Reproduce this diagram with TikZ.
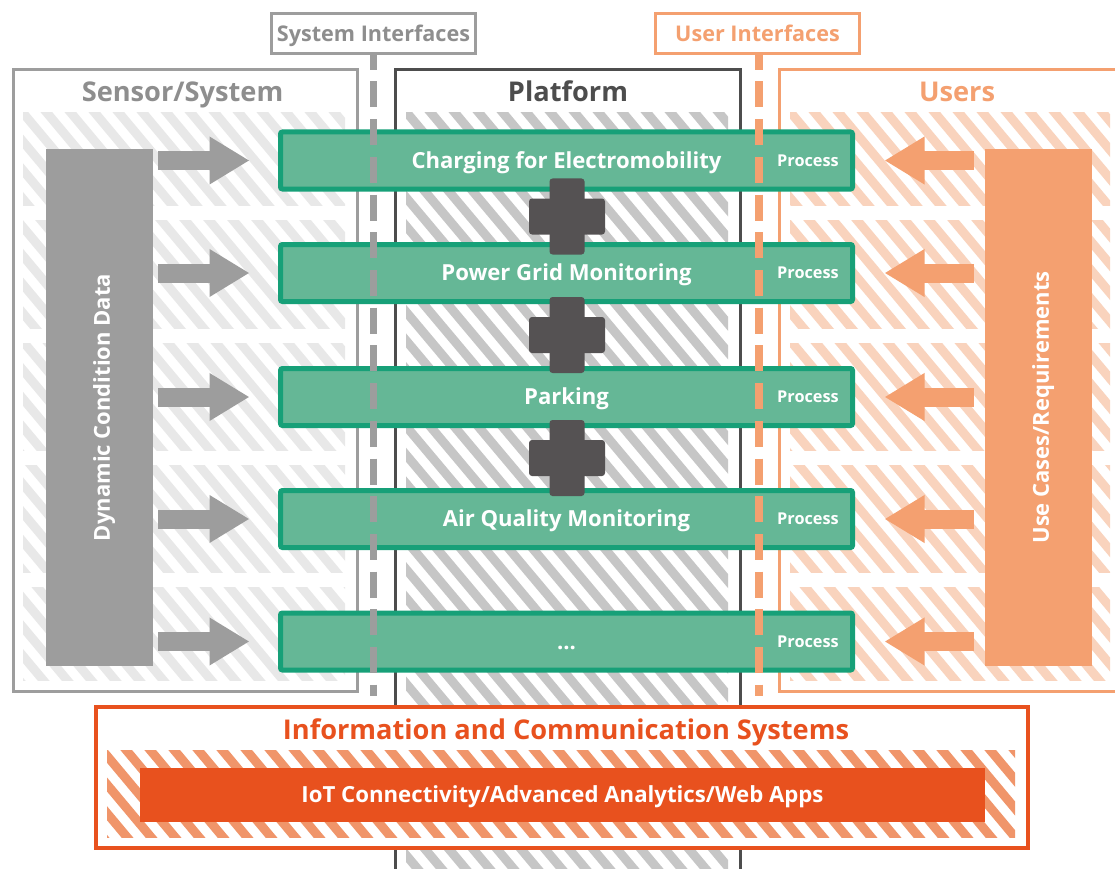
\documentclass[tikz,border=0pt]{standalone}
\usepackage{fontspec}
\setmainfont{Open Sans}
\usetikzlibrary{arrows.meta}

\definecolor{sgray}{HTML}{9D9D9D}
\definecolor{sgraytext}{HTML}{8E8E8E}
\definecolor{lighthatch}{HTML}{E8E8E8}
\definecolor{plathatch}{HTML}{C6C6C6}
\definecolor{platline}{HTML}{4D4D4D}
\definecolor{uorange}{HTML}{F4A070}
\definecolor{uhatch}{HTML}{F9D3BD}
\definecolor{gfill}{HTML}{65B796}
\definecolor{gline}{HTML}{17A078}
\definecolor{plus}{HTML}{555253}
\definecolor{ictred}{HTML}{E8511E}
\definecolor{icthatch}{HTML}{F0956A}

% diagonal hatching inside a rectangle, phase shared by all rectangles
% #1 colour, #2 x1, #3 y1, #4 x2, #5 y2
\newcommand{\hatchrect}[5]{%
  \begin{scope}
    \clip (#2,#3) rectangle (#4,#5);
    \pgfmathtruncatemacro\hkA{floor((#2-0.84*#5)/24)-1}
    \pgfmathtruncatemacro\hkB{ceil((#4-0.84*#3)/24)+1}
    \foreach \k in {\hkA,...,\hkB}
      \draw[#1, line width=9pt] (\k*24+0.84*#3-4, #3-5) -- (\k*24+0.84*#5+4, #5+5);
  \end{scope}}

% font size #1 with the node centred on the capitals
\tikzset{
  capfont/.style={font=\fontsize{#1}{#1}\selectfont\bfseries,
    text height=0.714*#1 pt, text depth=0pt},
  header/.style={capfont=27.2, inner sep=0pt},
  iflabel/.style={draw, line width=3pt, fill=white, minimum width=204pt, minimum height=40pt,
    inner sep=0pt, capfont=21.6},
  sidebar/.style={minimum width=107pt, minimum height=516pt, inner sep=0pt},
  sidetext/.style={rotate=90, text=white, capfont=22, inner sep=0pt},
  procbar/.style={draw=gline, fill=gfill, line width=5pt, rounded corners=2pt,
    minimum width=572pt, minimum height=57pt, inner sep=0pt,
    text=white, capfont=22.1},
  proctext/.style={text=white, capfont=16.3, inner sep=0pt},
  garrow/.style={sgray, line width=19pt, -{Triangle[length=40pt,width=45pt]},
    shorten <=5pt, shorten >=28.5pt},
  oarrow/.style={uorange, line width=19pt, -{Triangle[length=40pt,width=45pt]},
    shorten <=11pt, shorten >=29.5pt},
  ifline/.style={line width=7.5pt, dash pattern=on 26pt off 11.7pt, dash phase=11.2pt},
  plusfill/.style={fill=plus, rounded corners=3pt},
}

\begin{document}
\begin{tikzpicture}[x=1pt,y=-1pt]
\useasboundingbox (0,0) rectangle (1115,869);
\fill[white] (0,0) rectangle (1115,869);

% hatched bands of the three columns
\foreach \ya/\yb in {113/205,220/328,343/450,465/572,587/680}{
  \hatchrect{lighthatch}{23}{\ya}{345}{\yb}
  \hatchrect{uhatch}{790}{\ya}{1110}{\yb}
}
\hatchrect{plathatch}{406}{113}{728}{875}

% column frames
\node[draw=sgray, line width=3pt, minimum width=344pt, minimum height=622pt, inner sep=0pt]
  (sensor) at (185.5,380.5) {};
\draw[platline, line width=3pt] (395,880) -- (395,69.5) coordinate (platNW)
  -- (740.5,69.5) coordinate (platNE) -- (740.5,880);
\draw[uorange, line width=3pt] (1125,69.5) -- (779.5,69.5) -- (779.5,691.5) -- (1125,691.5);

% column headings
\node[header, text=sgraytext] (hsensor) at (182.5,92) {Sensor/System};
\node[header, text=platline] (hplat) at (568,92) {Platform};
\node[header, text=uorange] (husers) at (957,92) {Users};

% input and requirement blocks
\node[sidebar, fill=sgray] (dcd) at (99.5,407.5) {};
\node[sidetext] (dcdtext) at (102,407.5) {Dynamic Condition Data};
\node[sidebar, fill=uorange] (uc) at (1038.5,407.5) {};
\node[sidetext] (uctext) at (1041,407.5) {Use Cases/Requirements};

% process bars
\node[procbar] (b1) at (566.5,160.5) {Charging for Electromobility};
\node[procbar] (b2) at (566.5,273) {Power Grid Monitoring};
\node[procbar] (b3) at (566.5,397) {Parking};
\node[procbar] (b4) at (566.5,519) {Air Quality Monitoring};
\node[procbar] (b5) at (566.5,641.5) {...};
\foreach \b in {1,...,5}{
  \node[proctext] (p\b) at (808,0 |- b\b) {Process};
  \draw[garrow] (dcd.east |- b\b) -- (b\b.west);
  \draw[oarrow] (uc.west |- b\b) -- (b\b.east);
}

% plus signs joining the processes
\foreach \y in {216.5,335,458}{
  \fill[plusfill] (549.5,\y-38) rectangle (584.5,\y+38);
  \fill[plusfill] (529,\y-18) rectangle (605,\y+18);
}

% interface lines and their labels
\node[iflabel, draw=sgray, text=sgraytext] (sysif) at (373.5,33.5) {System Interfaces};
\node[iflabel, draw=uorange, text=uorange] (userif) at (757.5,33.5) {User Interfaces};
\coordinate (sysifend) at (373.5,696);
\coordinate (userifend) at (759,696);
\draw[ifline, sgray] (sysif.south) -- (sysifend);
\draw[ifline, uorange] (userif.south -| userifend) -- (userifend);

% information and communication systems
\node[draw=ictred, line width=4pt, fill=white, minimum width=932pt, minimum height=141pt,
  inner sep=0pt] (ict) at (562,777.5) {};
\hatchrect{icthatch}{107}{750}{1015}{837}
\node[header, text=ictred] (icttitle) at (566,730) {Information and Communication Systems};
\node[fill=ictred, minimum width=845pt, minimum height=54pt, inner sep=0pt, text=white,
  capfont=22.2] (iot) at (562.5,795)
  {IoT Connectivity/Advanced Analytics/Web Apps};
\end{tikzpicture}
\end{document}
